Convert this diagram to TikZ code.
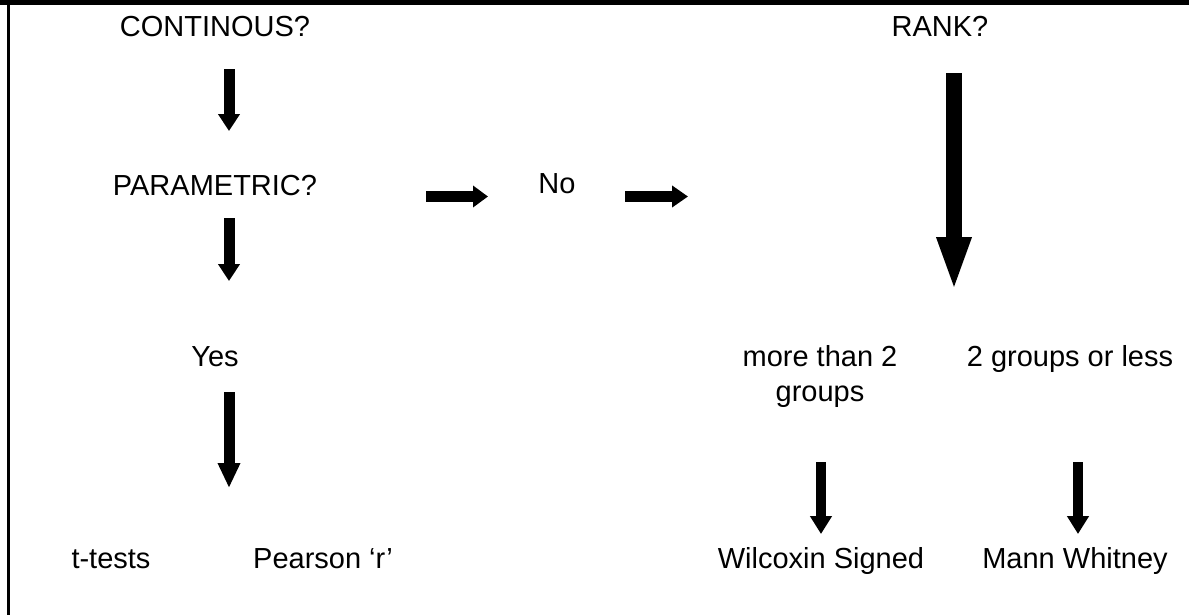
\documentclass[tikz,border=0pt]{standalone}
\usepackage{fontspec}
\setmainfont{Liberation Sans}
\usepackage{tikz}
\usetikzlibrary{arrows.meta}
\tikzset{
  lab/.style={anchor=base, inner sep=0pt, align=center, font=\fontsize{16.5}{19.9}\selectfont},
  arr/.style={line width=2.2mm, -{Triangle[width=4.2mm,length=#1]}},
  arr/.default=3.4mm,
  bigarr/.style={line width=3.2mm, -{Triangle[width=6.2mm,length=11mm]}},
  rule/.style={fill=black, draw=none}
}
\begin{document}
\begin{tikzpicture}[x=0.2mm, y=-0.2mm]
  \useasboundingbox (0,0) rectangle (1189,615);
  % table border
  \fill[rule] (0,0) rectangle (1189,5);
  \fill[rule] (7,0) rectangle (9.5,615);

  % left column
  \node[lab] (cont) at (215,36) {CONTINOUS?};
  \node[lab] (param) at (215,195) {PARAMETRIC?};
  \node[lab] (yes) at (215,366) {Yes};
  \node[lab] (ttest) at (111,568) {t-tests};
  \node[lab] (pearson) at (323,568) {Pearson ‘r’};

  % middle
  \node[lab] (no) at (557,193) {No};

  % right column (base of a two-line node is its last line)
  \node[lab] (rank) at (940,36) {RANK?};
  \node[lab] (more) at (820,401) {more than 2\\groups};
  \node[lab] (less) at (1070,366) {2 groups or less};
  \node[lab] (wilc) at (821,568) {Wilcoxin Signed};
  \node[lab] (mann) at (1075,568) {Mann Whitney};

  % arrow ends
  \coordinate (a1s) at (229,69);  \coordinate (a1e) at (229,131);
  \coordinate (a2s) at (229,218); \coordinate (a2e) at (229,281);
  \coordinate (a3s) at (229,392); \coordinate (a3e) at (229,488);
  \coordinate (h1s) at (426,196.5); \coordinate (h1e) at (488,196.5);
  \coordinate (h2s) at (625,196.5); \coordinate (h2e) at (688,196.5);
  \coordinate (bs) at (954,73);   \coordinate (be) at (954,292);
  \coordinate (ws) at (821,462);  \coordinate (we) at (821,534);
  \coordinate (ms) at (1078,462); \coordinate (me) at (1078,534);

  \draw[arr] (a1s) -- (a1e);
  \draw[arr] (a2s) -- (a2e);
  \draw[arr=5mm] (a3s) -- (a3e);
  \draw[arr=3mm] (h1s) -- (h1e);
  \draw[arr=3.2mm] (h2s) -- (h2e);
  \draw[bigarr] (bs) -- (be);
  \draw[arr=3.6mm, line width=2mm] (ws) -- (we);
  \draw[arr=3.6mm, line width=2mm] (ms) -- (me);
\end{tikzpicture}
\end{document}
